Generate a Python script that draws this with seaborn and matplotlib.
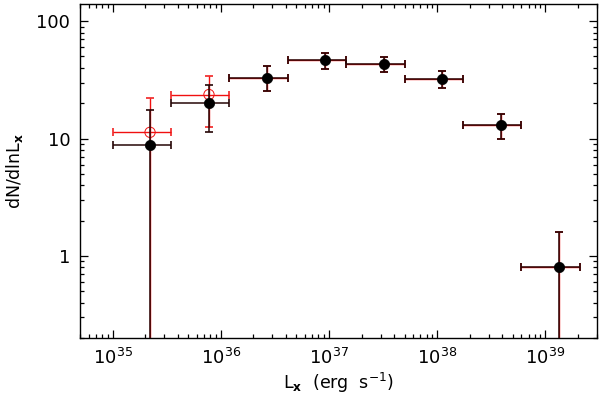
import numpy as np
import pandas as pd
import matplotlib
matplotlib.use("Agg")
import matplotlib.pyplot as plt
import seaborn as sns
from matplotlib.ticker import LogLocator, FixedLocator, FixedFormatter, NullFormatter

# ---- data ----
lx = [2.22e35, 7.78e35, 2.65e36, 9.27e36, 3.21e37, 1.11e38, 3.88e38, 1.34e39]
bin_lo = [1.0e35, 3.48e35, 1.20e36, 4.14e36, 1.45e37, 4.99e37, 1.72e38, 6.01e38]
bin_hi = [3.48e35, 1.20e36, 4.14e36, 1.45e37, 4.99e37, 1.72e38, 6.01e38, 2.09e39]
black_y = [8.78, 20.1, 33.0, 46.3, 42.9, 32.4, 13.0, 0.80]
black_lo = [0.01, 11.4, 25.3, 38.8, 36.9, 27.2, 9.82, 0.01]
black_hi = [17.4, 28.8, 41.2, 53.5, 49.4, 37.6, 16.3, 1.61]
red_y = [11.3, 23.7, 33.0, 46.3, 42.9, 32.4, 13.0, 0.80]
red_lo = [0.01, 12.6, 25.3, 38.8, 36.9, 27.2, 9.82, 0.01]
red_hi = [22.0, 34.1, 41.2, 53.5, 49.4, 37.6, 16.3, 1.61]
yticks = [1, 10, 100]
yticklabels = ["1", "10", "100"]

df = pd.DataFrame({"lx": lx, "black": black_y, "red": red_y})

sns.set_style("ticks")
plt.rcParams["font.family"] = ["DejaVu Sans"]
plt.rcParams["text.color"] = "black"
plt.rcParams["axes.labelcolor"] = "black"
plt.rcParams["xtick.color"] = "black"
plt.rcParams["ytick.color"] = "black"

fig = plt.figure(figsize=(6.0, 3.99), dpi=100)
ax = fig.add_axes([80 / 600, 61 / 399, 517 / 600, 334 / 399])

red = "#f01010"
dark = "#260606"

lx_a = np.array(lx)
xerr = [lx_a - np.array(bin_lo), np.array(bin_hi) - lx_a]

ry = np.array(red_y)
ax.errorbar(lx_a, ry, xerr=xerr, yerr=[ry - np.array(red_lo), np.array(red_hi) - ry],
            fmt="none", ecolor=red, elinewidth=1.0, capsize=2.6, capthick=1.1, zorder=2)
sns.scatterplot(data=df.iloc[:2], x="lx", y="red", ax=ax, marker="o", s=55,
                facecolor="none", edgecolor=red, linewidth=0.7, zorder=3, legend=False)

by = np.array(black_y)
ax.errorbar(lx_a, by, xerr=xerr, yerr=[by - np.array(black_lo), np.array(black_hi) - by],
            fmt="none", ecolor=dark, elinewidth=1.1, capsize=2.6, capthick=1.2, zorder=4)
sns.scatterplot(data=df, x="lx", y="black", ax=ax, marker="o", s=55,
                color="black", edgecolor="black", linewidth=0.5, zorder=5, legend=False)

ax.set_xscale("log")
ax.set_yscale("log")
ax.set_xlim(5e34, 3e39)
ax.set_ylim(0.2, 140)

ax.yaxis.set_major_locator(FixedLocator(yticks))
ax.yaxis.set_major_formatter(FixedFormatter(yticklabels))
ax.yaxis.set_minor_locator(LogLocator(base=10, subs=np.arange(2, 10)))
ax.yaxis.set_minor_formatter(NullFormatter())
ax.xaxis.set_major_locator(LogLocator(base=10, numticks=10))
ax.xaxis.set_minor_locator(LogLocator(base=10, subs=np.arange(2, 10), numticks=20))
ax.xaxis.set_minor_formatter(NullFormatter())

ax.tick_params(which="both", direction="in", top=True, right=True, color="black", width=0.9)
ax.tick_params(which="major", length=5.5, labelsize=13, pad=7)
ax.tick_params(which="minor", length=3)
for s in ax.spines.values():
    s.set_linewidth(1.0)
    s.set_color("black")

ax.set_xlabel(r"L$_{\mathbf{x}}$  (erg  s$^{-1}$)", fontsize=12.5, labelpad=2)
ax.set_ylabel(r"dN/dlnL$_{\mathbf{x}}$", fontsize=12.5, labelpad=8)

fig.savefig("out.png", dpi=100)
